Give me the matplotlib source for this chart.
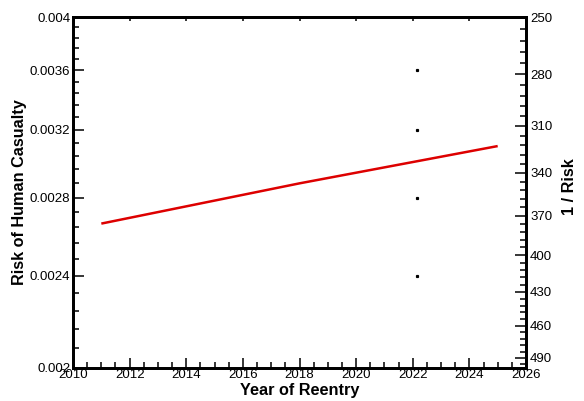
import numpy as np
import matplotlib
matplotlib.use("Agg")
import matplotlib.pyplot as plt
from matplotlib.ticker import FixedLocator, NullFormatter

plt.rcParams['font.family'] = ['Liberation Sans', 'DejaVu Sans']

# risk curve
years = [2011, 2018, 2025]
risk = [0.00266, 0.00288, 0.00310]

# axis ticks
x_major = np.arange(2010, 2027, 2)
x_minor = np.arange(2010, 2026.01, 0.5)
y_major = [0.002, 0.0024, 0.0028, 0.0032, 0.0036, 0.004]
y_major_labels = ["0.002", "0.0024", "0.0028", "0.0032", "0.0036", "0.004"]
y_minor = np.arange(0.002, 0.00401, 0.00008)
inv_major = [250, 280, 310, 340, 370, 400, 430, 460, 490]
inv_minor = np.arange(250, 500, 6)

# stray tick marks left in the picture
stray_year = 2022.15
stray_risk = [0.0024, 0.0028, 0.0032, 0.0036]

fig = plt.figure(figsize=(5.84, 4.01), dpi=100)
ax = fig.add_axes([73 / 584, 1 - 368 / 401, 453 / 584, 351 / 401])

ax.plot(years, risk, color="#dd0000", lw=1.8, solid_capstyle="butt")
ax.plot([stray_year] * len(stray_risk), stray_risk, ls="none", marker="s",
        ms=1.3, color="k")

ax.set_xlim(2010, 2026)
ax.set_yscale("log")
ax.set_ylim(0.002, 0.004)

ax.xaxis.set_major_locator(FixedLocator(x_major))
ax.xaxis.set_minor_locator(FixedLocator(x_minor))
ax.yaxis.set_major_locator(FixedLocator(y_major))
ax.yaxis.set_minor_locator(FixedLocator(y_minor))
ax.set_yticklabels(y_major_labels)
ax.yaxis.set_minor_formatter(NullFormatter())

ax.tick_params(axis="both", which="both", direction="in", labelsize=9.5,
               right=False, top=False, width=1.1)
ax.tick_params(axis="x", which="major", length=7, pad=1)
ax.tick_params(axis="x", which="minor", length=4)
ax.tick_params(axis="y", which="major", length=8, pad=2)
ax.tick_params(axis="y", which="minor", length=4)

for sp in ax.spines.values():
    sp.set_linewidth(2)

# small marks along the top
top = ax.secondary_xaxis("top")
top.xaxis.set_major_locator(FixedLocator(x_major[1:-1]))
top.tick_params(direction="in", length=3, width=1.1, labeltop=False, pad=0)
top.spines["top"].set_linewidth(2)

# right axis: 1 / risk
ax2 = ax.twinx()
ax2.set_yscale("log")
ax2.set_ylim(500, 250)
ax2.yaxis.set_major_locator(FixedLocator(inv_major))
ax2.yaxis.set_minor_locator(FixedLocator(inv_minor))
ax2.set_yticklabels([str(v) for v in inv_major])
ax2.yaxis.set_minor_formatter(NullFormatter())
ax2.tick_params(axis="y", which="both", direction="in", labelsize=9.5, width=1.1)
ax2.tick_params(axis="y", which="major", length=8, pad=3)
ax2.tick_params(axis="y", which="minor", length=4)
for sp in ax2.spines.values():
    sp.set_linewidth(2)

ax.set_xlabel("Year of Reentry", fontsize=11.7, fontweight="bold")
ax.xaxis.set_label_coords(0.5, -0.044)
ax.set_ylabel("Risk of Human Casualty", fontsize=11.7, fontweight="bold")
ax.yaxis.set_label_coords(-0.101, 0.5)
ax2.set_ylabel("1 / Risk", fontsize=11.7, fontweight="bold")
ax2.yaxis.set_label_coords(1.079, 0.516)

fig.savefig("out.png", dpi=100)
